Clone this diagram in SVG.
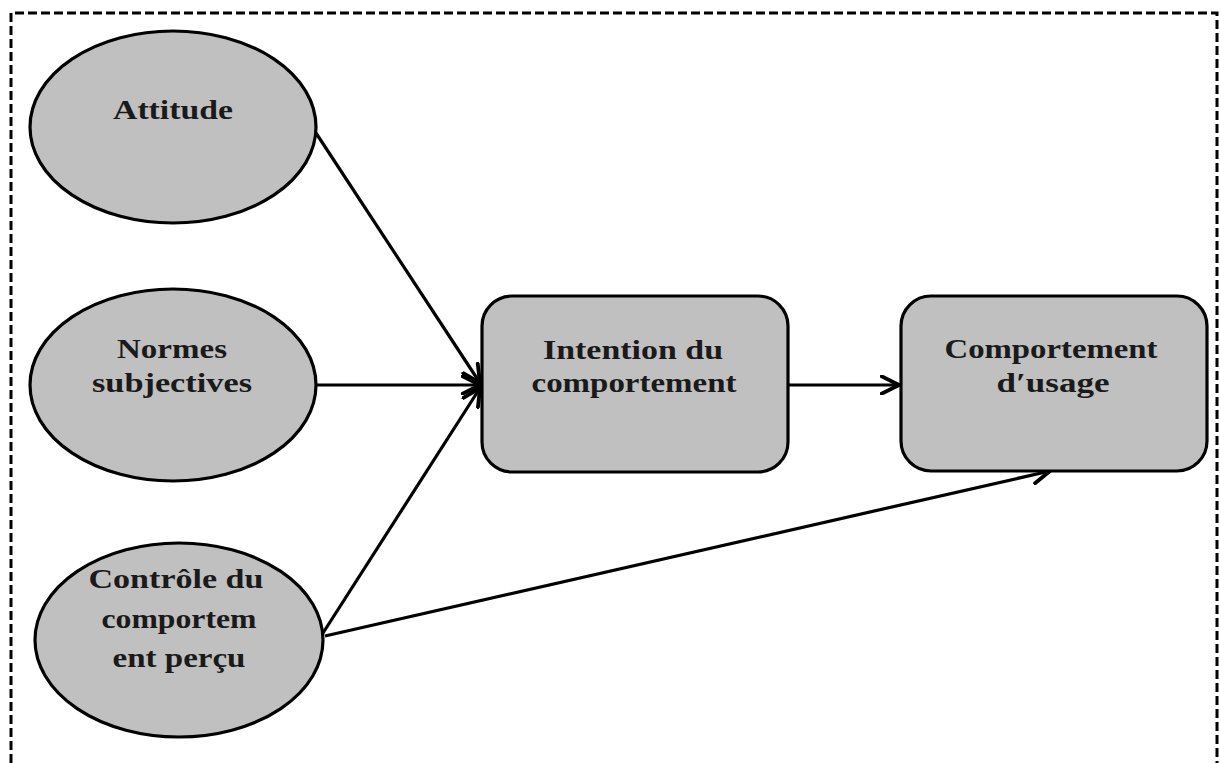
<svg xmlns="http://www.w3.org/2000/svg" width="1220" height="763" viewBox="0 0 1220 763">
<defs>
<style>
.node{fill:#c0c0c0;stroke:#000;stroke-width:3.2}
.lbl{font-family:"Liberation Serif","Times New Roman",serif;font-weight:bold;font-size:28px;fill:#1a1a1a;text-anchor:middle}
.conn{stroke:#000;stroke-width:3.2;fill:none;marker-end:url(#arr)}
.frame{fill:none;stroke:#000;stroke-width:3;stroke-dasharray:9 4}
</style>
<marker id="arr" viewBox="0 0 12 12" refX="11" refY="6" markerWidth="6.5" markerHeight="6.5" orient="auto" markerUnits="strokeWidth">
<path d="M1,1 L11,6 L1,11" fill="none" stroke="#000" stroke-width="2.2" stroke-linecap="round" stroke-linejoin="round"/>
</marker>
</defs>
<rect width="1220" height="763" fill="#fff"/>
<path class="frame" d="M11,763 L11,13 L1217,13 L1217,763"/>
<g id="connectors">
<line class="conn" x1="316" y1="133" x2="480" y2="383"/>
<line class="conn" x1="316" y1="385" x2="480" y2="385"/>
<line class="conn" x1="323" y1="633" x2="480" y2="388"/>
<line class="conn" x1="788" y1="385" x2="899" y2="385"/>
<line class="conn" x1="325" y1="636" x2="1050" y2="471"/>
</g>
<g id="attitude">
<ellipse class="node" cx="173" cy="127" rx="143" ry="96"/>
<text class="lbl" x="173" y="119" textLength="120" lengthAdjust="spacingAndGlyphs">Attitude</text>
</g>
<g id="normes">
<ellipse class="node" cx="173" cy="385" rx="143" ry="96"/>
<text class="lbl" x="172" y="358" textLength="110" lengthAdjust="spacingAndGlyphs">Normes</text>
<text class="lbl" x="172" y="392" textLength="160" lengthAdjust="spacingAndGlyphs">subjectives</text>
</g>
<g id="controle">
<ellipse class="node" cx="179" cy="640" rx="144" ry="97"/>
<text class="lbl" x="176" y="588" textLength="175" lengthAdjust="spacingAndGlyphs">Contrôle du</text>
<text class="lbl" x="179" y="628" textLength="155" lengthAdjust="spacingAndGlyphs">comportem</text>
<text class="lbl" x="179" y="667" textLength="133" lengthAdjust="spacingAndGlyphs">ent perçu</text>
</g>
<g id="intention">
<rect class="node" x="482" y="296" width="306" height="176" rx="30" ry="30"/>
<text class="lbl" x="633" y="359" textLength="180" lengthAdjust="spacingAndGlyphs">Intention du</text>
<text class="lbl" x="634" y="392" textLength="205" lengthAdjust="spacingAndGlyphs">comportement</text>
</g>
<g id="comportement">
<rect class="node" x="901" y="296" width="306" height="175" rx="30" ry="30"/>
<text class="lbl" x="1051" y="358" textLength="213" lengthAdjust="spacingAndGlyphs">Comportement</text>
<text class="lbl" x="1053" y="392" textLength="113" lengthAdjust="spacingAndGlyphs">d′usage</text>
</g>
</svg>
